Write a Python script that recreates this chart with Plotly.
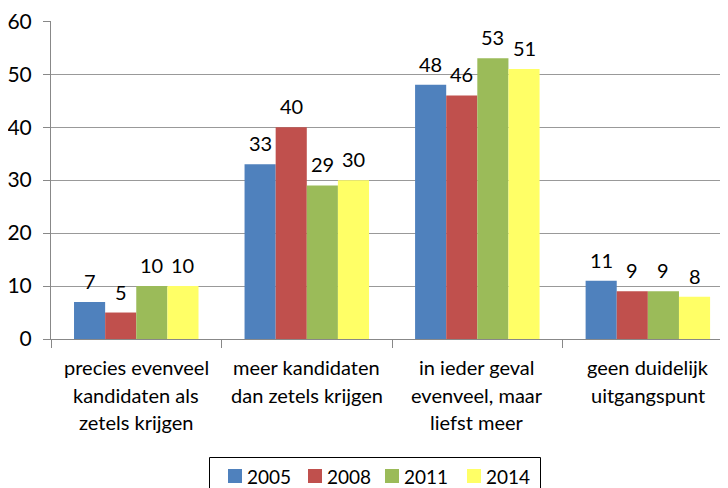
import plotly.graph_objects as go

categories = ["precies evenveel kandidaten als zetels krijgen",
              "meer kandidaten dan zetels krijgen",
              "in ieder geval evenveel, maar liefst meer",
              "geen duidelijk uitgangspunt"]
label_lines = [["precies evenveel", "kandidaten als", "zetels krijgen"],
               ["meer kandidaten", "dan zetels krijgen"],
               ["in ieder geval", "evenveel, maar", "liefst meer"],
               ["geen duidelijk", "uitgangspunt"]]
years = ["2005", "2008", "2011", "2014"]
v2005 = [7, 33, 48, 11]
v2008 = [5, 40, 46, 9]
v2011 = [10, 29, 53, 9]
v2014 = [10, 30, 51, 8]
colors = ["#4F81BD", "#C0504D", "#9BBB59", "#FFFF66"]

FONT = "Lato, Carlito, sans-serif"
BARGAP = 0.27
series = [v2005, v2008, v2011, v2014]
n = len(series)
bw = (1 - BARGAP) / n

fig = go.Figure()
for k, (name, vals, c) in enumerate(zip(years, series, colors)):
    fig.add_trace(go.Bar(
        x=categories, y=vals, name=name, marker=dict(color=c, line=dict(width=0)),
        showlegend=False))
    for i, v in enumerate(vals):
        fig.add_annotation(x=i + (k - (n - 1) / 2) * bw, xref="x", y=v, yref="y",
                           yanchor="bottom", yshift=7, text=str(v), showarrow=False,
                           font=dict(size=20, family=FONT, color="#000"))

# category labels
for i, lines in enumerate(label_lines):
    for j, ln in enumerate(lines):
        fig.add_annotation(x=i, xref="x", y=0, yref="paper", yanchor="middle",
                           yshift=-28 - 27.5 * j, text=ln, showarrow=False,
                           font=dict(size=20, family=FONT, color="#000"))

# legend (drawn manually)
PW, PH = 677.0, 318.0
def px(xs):
    return (xs - 51) / PW
def py(ys):
    return (339 - ys) / PH

fig.add_shape(type="rect", xref="paper", yref="paper", x0=px(209.5), x1=px(540.5),
              y0=py(457.5), y1=py(495), line=dict(color="#000", width=1),
              fillcolor="rgba(0,0,0,0)")
sq_x = [228, 308, 385, 467]
for name, c, sx in zip(years, colors, sq_x):
    fig.add_shape(type="rect", xref="paper", yref="paper", x0=px(sx), x1=px(sx + 14),
                  y0=py(469), y1=py(483), line=dict(width=0), fillcolor=c)
    fig.add_annotation(x=px(sx + 17), xref="paper", xanchor="left", y=py(476),
                       yref="paper", yanchor="middle", text=name, showarrow=False,
                       font=dict(size=19, family=FONT, color="#000"))

fig.update_layout(
    width=720, height=480,
    margin=dict(l=43, r=0, t=13, b=149),
    paper_bgcolor="white", plot_bgcolor="white",
    barmode="group", bargap=BARGAP, bargroupgap=0,
    font=dict(family=FONT, size=20, color="#000"),
    showlegend=False,
    xaxis=dict(type="category", range=[-0.5, 3.47], showline=True, linecolor="#888",
               ticks="outside", tickson="boundaries", ticklen=8, tickcolor="#888",
               showgrid=False, showticklabels=False, automargin=False),
    yaxis=dict(range=[0, 60.05], tickvals=[0, 10, 20, 30, 40, 50, 60],
               showline=True, linecolor="#888",
               ticks="outside", ticklen=7, tickcolor="#888", automargin=False,
               ticklabelstandoff=7, ticklabeloverflow="allow",
               showgrid=True, gridcolor="#999", gridwidth=1, zeroline=False,
               tickfont=dict(size=21)),
)
fig.write_html("out.html")
